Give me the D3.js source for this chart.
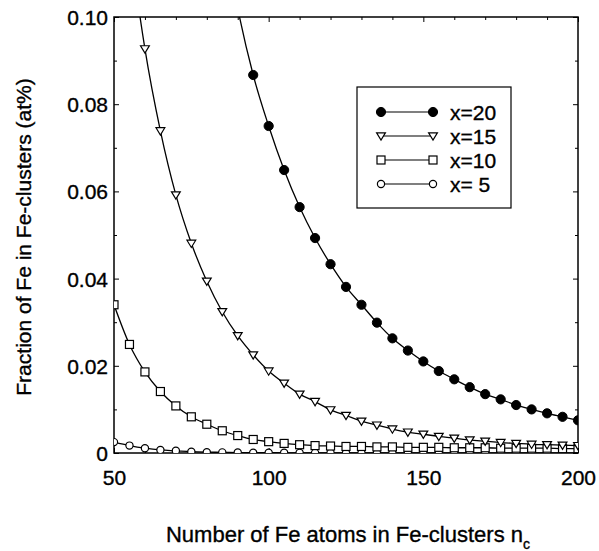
<!DOCTYPE html>
<html><head><meta charset="utf-8">
<script src="https://cdn.jsdelivr.net/npm/d3@7"></script>
<style>
html,body{margin:0;padding:0;background:#fff;}
svg text{font-family:"Liberation Sans",Arial,sans-serif;fill:#000;stroke:#000;stroke-width:0.35px;}
</style></head>
<body>
<svg id="chart" width="599" height="551"></svg>
<script>
// ---- data ----
const nValues = [50,55,60,65,70,75,80,85,90,95,100,105,110,115,120,125,130,135,140,145,150,155,160,165,170,175,180,185,190,195,200];
const seriesNames = ["x=20","x=15","x=10","x= 5"];
const x20 = [0.40,0.33,0.28,0.235,0.20,0.17,0.145,0.122,0.102,0.0867,0.0750,0.0649,0.0564,0.0493,0.0433,0.0381,0.0340,0.0299,0.0263,0.0235,0.0210,0.0188,0.0169,0.0151,0.0135,0.0123,0.0110,0.0100,0.0091,0.0083,0.0075];
const x15 = [0.15,0.118,0.0927,0.0739,0.0592,0.0481,0.0394,0.0324,0.0269,0.0225,0.0188,0.0160,0.0135,0.0118,0.0099,0.0086,0.0073,0.0064,0.0055,0.0048,0.0043,0.0038,0.0034,0.0030,0.0027,0.0024,0.0022,0.0020,0.0019,0.0018,0.0017];
const x10 = [0.0340,0.0249,0.0186,0.0141,0.0108,0.0083,0.0066,0.0051,0.0040,0.0031,0.0026,0.0022,0.0019,0.0017,0.0016,0.0015,0.0015,0.0014,0.0014,0.0013,0.0013,0.0013,0.0012,0.0012,0.0012,0.0011,0.0011,0.0011,0.0011,0.0010,0.0010];
const x5  = [0.0025,0.0017,0.0011,0.0007,0.0005,0.0003,0.0002,0.00015,0.0001,0.00008,0.00006,0.00005,0.00004,0.00003,0.00003,0.00002,0.00002,0.00002,0.00001,0.00001,0.00001,0.00001,0.00001,0.00001,0.00001,0.00001,0.00001,0.00001,0.00001,0.00001,0.00001];
const xTicks = [50,100,150,200];
const xTickLabels = ["50","100","150","200"];
const yTicks = [0,0.02,0.04,0.06,0.08,0.10];
const yTickLabels = ["0","0.02","0.04","0.06","0.08","0.10"];
const xMinorTicks = [60,70,80,90,110,120,130,140,160,170,180,190];
const yMinorTicks = [0.01,0.03,0.05,0.07,0.09];
const xTitle = "Number of Fe atoms in Fe-clusters n";
const xTitleSub = "c";
const yTitle = "Fraction of Fe in Fe-clusters (at%)";

// ---- layout ----
const L=114, R=578, T=17, B=453;
const svg = d3.select("#chart");
const x = d3.scaleLinear().domain([50,200]).range([L,R]);
const y = d3.scaleLinear().domain([0,0.1]).range([B,T]);

svg.append("defs").append("clipPath").attr("id","clip")
  .append("rect").attr("x",L).attr("y",T).attr("width",R-L).attr("height",B-T);

function drawAxes(){
  const g = svg.append("g");
  const bot = g.append("g").attr("transform",`translate(0,${B})`)
    .call(d3.axisBottom(x).tickValues(xTicks).tickSizeInner(-5).tickSizeOuter(0).tickFormat((d,i)=>xTickLabels[i]));
  bot.selectAll("text").attr("dy",null).attr("y",32).style("font-size","21px");
  g.append("g").attr("transform",`translate(0,${T})`)
    .call(d3.axisTop(x).tickValues(xTicks).tickSizeInner(-5).tickSizeOuter(0).tickFormat(""));
  const left = g.append("g").attr("transform",`translate(${L},0)`)
    .call(d3.axisLeft(y).tickValues(yTicks).tickSizeInner(-5).tickSizeOuter(0).tickFormat((d,i)=>yTickLabels[i]));
  left.selectAll("text").attr("x",-6).attr("dy","0.36em").style("font-size","21px");
  g.append("g").attr("transform",`translate(${R},0)`)
    .call(d3.axisRight(y).tickValues(yTicks).tickSizeInner(-5).tickSizeOuter(0).tickFormat(""));
  g.append("g").attr("transform",`translate(0,${B})`).call(d3.axisBottom(x).tickValues(xMinorTicks).tickSizeInner(-3).tickSizeOuter(0).tickFormat(""));
  g.append("g").attr("transform",`translate(0,${T})`).call(d3.axisTop(x).tickValues(xMinorTicks).tickSizeInner(-3).tickSizeOuter(0).tickFormat(""));
  g.append("g").attr("transform",`translate(${L},0)`).call(d3.axisLeft(y).tickValues(yMinorTicks).tickSizeInner(-3).tickSizeOuter(0).tickFormat(""));
  g.append("g").attr("transform",`translate(${R},0)`).call(d3.axisRight(y).tickValues(yMinorTicks).tickSizeInner(-3).tickSizeOuter(0).tickFormat(""));
  g.selectAll(".domain").remove();
  g.selectAll("line").attr("stroke","#000").attr("stroke-width",1);
  svg.append("rect").attr("x",L).attr("y",T).attr("width",R-L).attr("height",B-T)
    .attr("fill","none").attr("stroke","#000").attr("stroke-width",1.5);
}

const markerTypes = ["filledCircle","triangle","square","openCircle"];
function drawMarker(sel, type, cx, cy){
  if(type==="filledCircle"){
    sel.append("circle").attr("cx",cx).attr("cy",cy).attr("r",4.6).attr("fill","#000").attr("stroke","#000");
  } else if(type==="openCircle"){
    sel.append("circle").attr("cx",cx).attr("cy",cy).attr("r",3.6).attr("fill","#fff").attr("stroke","#000").attr("stroke-width",1.2);
  } else if(type==="square"){
    sel.append("rect").attr("x",cx-4).attr("y",cy-4).attr("width",8).attr("height",8).attr("fill","#fff").attr("stroke","#000").attr("stroke-width",1.2);
  } else {
    const s=4.4;
    sel.append("path").attr("d",`M${cx-s},${cy-s*0.7}L${cx+s},${cy-s*0.7}L${cx},${cy+s*0.95}Z`)
      .attr("fill","#fff").attr("stroke","#000").attr("stroke-width",1.2);
  }
}

drawAxes();

const allSeries = [x20,x15,x10,x5];
const plot = svg.append("g").attr("clip-path","url(#clip)");
const line = d3.line().x(d=>x(d[0])).y(d=>y(d[1])).curve(d3.curveMonotoneX);
[3,2,1,0].forEach(si=>{
  const pts = nValues.map((n,i)=>[n, allSeries[si][i]]);
  plot.append("path").datum(pts).attr("d",line).attr("fill","none").attr("stroke","#000").attr("stroke-width",1.3);
  const mg = plot.append("g");
  pts.forEach(p=>drawMarker(mg, markerTypes[si], x(p[0]), y(p[1])));
});

// legend
const lg = svg.append("g");
lg.append("rect").attr("x",357).attr("y",87).attr("width",154).attr("height",121)
  .attr("fill","#fff").attr("stroke","#000").attr("stroke-width",1.2);
const legRowY = d3.scalePoint().domain(seriesNames).range([112,184]);
seriesNames.forEach((name,i)=>{
  const yy = legRowY(name);
  lg.append("line").attr("x1",381).attr("x2",433).attr("y1",yy).attr("y2",yy).attr("stroke","#000").attr("stroke-width",1.2);
  drawMarker(lg, markerTypes[i], 381, yy);
  drawMarker(lg, markerTypes[i], 433, yy);
  lg.append("text").attr("x",450).attr("y",yy).attr("dy","0.36em")
    .style("font-size","21px").style("white-space","pre").attr("xml:space","preserve").text(name);
});

// axis titles
const xt = svg.append("text").attr("x",348).attr("y",542).attr("text-anchor","middle").style("font-size","22px");
xt.append("tspan").text(xTitle);
xt.append("tspan").attr("dy",7).style("font-size","14px").text(xTitleSub);
svg.append("text").attr("transform","translate(31,237) rotate(-90)").attr("text-anchor","middle")
  .style("font-size","21px").text(yTitle);
</script>
</body></html>
